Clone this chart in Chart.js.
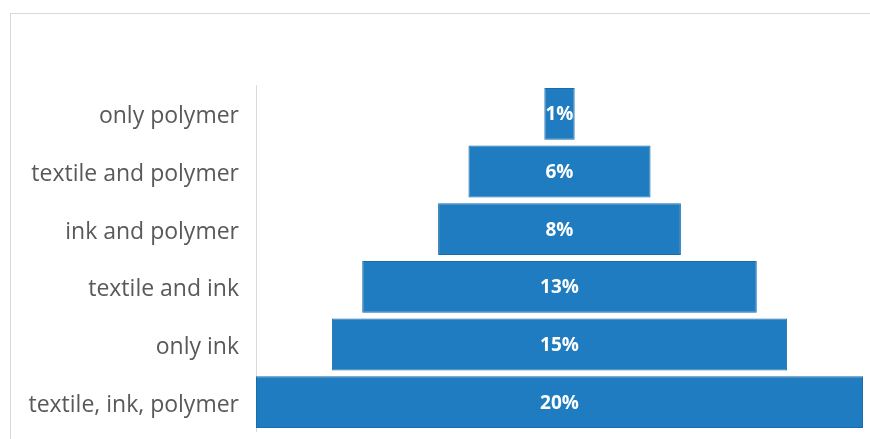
<!DOCTYPE html>
<html>
<head>
<meta charset="utf-8">
<script src="https://cdn.jsdelivr.net/npm/chart.js@4/dist/chart.umd.min.js"></script>
<style>
  html, body { margin: 0; padding: 0; background: #fff; overflow: hidden; }
  #frame { position: absolute; left: 10px; top: 13px; width: 900px; height: 500px; border: 1px solid #d9d9d9; }
  #myChart { position: absolute; left: 0; top: 0; }
</style>
</head>
<body>
<div id="frame"></div>
<canvas id="myChart" width="870" height="439"></canvas>
<script>
// FUNNEL - DATA //
var categories = ['only polymer', 'textile and polymer', 'ink and polymer', 'textile and ink', 'only ink', 'textile, ink, polymer'];
var shares = [1, 6, 8, 13, 15, 20];
var shareLabels = ['1%', '6%', '8%', '13%', '15%', '20%'];

// centred floating bars make the funnel shape
var spans = shares.map(function (v) { return [-v / 2, v / 2]; });

// white % label in the middle of each bar
var centerLabels = {
    id: 'centerLabels',
    afterDatasetsDraw: function (chart) {
        var ctx = chart.ctx;
        var meta = chart.getDatasetMeta(0);
        ctx.save();
        ctx.fillStyle = '#ffffff';
        ctx.font = 'bold 19px "Open Sans", sans-serif';
        ctx.textAlign = 'center';
        ctx.textBaseline = 'middle';
        meta.data.forEach(function (bar, i) {
            var c = bar.getCenterPoint();
            ctx.fillText(shareLabels[i], c.x, c.y + 1);
        });
        ctx.restore();
    }
};

var ctx = document.getElementById('myChart').getContext('2d');
var chart = new Chart(ctx, {
    type: 'bar',
    data: {
        labels: categories,
        datasets: [{
            data: spans,
            backgroundColor: '#1f7cc1',
            borderColor: '#1a6dab',
            borderWidth: 1,
            borderSkipped: false,
            categoryPercentage: 0.9,
            barPercentage: 1
        }]
    },
    options: {
        indexAxis: 'y',
        responsive: false,
        animation: false,
        layout: { padding: { top: 85, right: 7, bottom: 8, left: 0 } },
        plugins: { legend: { display: false }, tooltip: { enabled: false } },
        scales: {
            x: { display: false, min: -10, max: 10 },
            y: {
                grid: { display: false, drawTicks: false },
                border: { display: true, color: '#d9d9d9', width: 1 },
                ticks: {
                    color: '#595959',
                    padding: 17,
                    labelOffset: 3,
                    font: { family: '"Open Sans", sans-serif', size: 23 }
                },
                afterFit: function (scale) {
                    scale.width = 256;
                    scale.paddingTop = 0;
                    scale.paddingBottom = 0;
                }
            }
        }
    },
    plugins: [centerLabels]
});
</script>
</body>
</html>
